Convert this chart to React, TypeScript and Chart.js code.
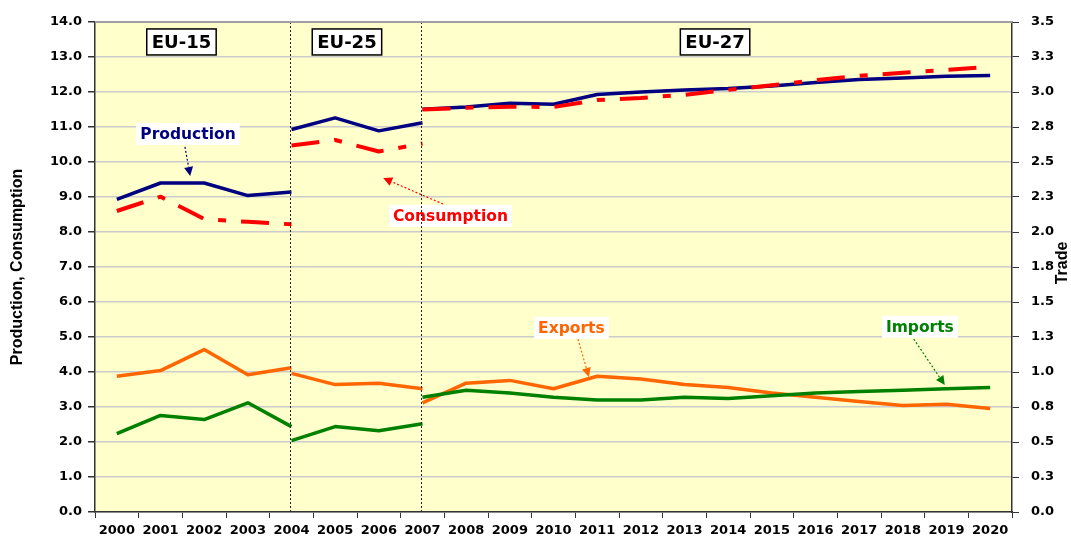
import React, { useEffect, useRef } from 'react';
import { Chart, registerables } from 'chart.js';

Chart.register(...registerables);

// ---------- data ----------
const years = ['2000','2001','2002','2003','2004','2005','2006','2007','2008','2009','2010','2011','2012','2013','2014','2015','2016','2017','2018','2019','2020'];

const leftTickLabels = ['0.0','1.0','2.0','3.0','4.0','5.0','6.0','7.0','8.0','9.0','10.0','11.0','12.0','13.0','14.0'];
const rightTickLabels = ['0.0','0.3','0.5','0.8','1.0','1.3','1.5','1.8','2.0','2.3','2.5','2.8','3.0','3.3','3.5'];

// Production (left axis)
const prodEU15 = [8.93, 9.40, 9.40, 9.04, 9.14, null, null, null, null, null, null, null, null, null, null, null, null, null, null, null, null];
const prodEU25 = [null, null, null, null, 10.93, 11.26, 10.89, 11.12, null, null, null, null, null, null, null, null, null, null, null, null, null];
const prodEU27 = [null, null, null, null, null, null, null, 11.51, 11.57, 11.68, 11.65, 11.93, 12.00, 12.06, 12.10, 12.17, 12.27, 12.36, 12.40, 12.45, 12.47];

// Consumption (left axis)
const consEU15 = [8.60, 9.01, 8.37, 8.29, 8.22, null, null, null, null, null, null, null, null, null, null, null, null, null, null, null, null];
const consEU25 = [null, null, null, null, 10.47, 10.63, 10.30, 10.53, null, null, null, null, null, null, null, null, null, null, null, null, null];
const consEU27 = [null, null, null, null, null, null, null, 11.50, 11.55, 11.58, 11.57, 11.77, 11.83, 11.92, 12.06, 12.19, 12.34, 12.46, 12.55, 12.63, 12.72];

// Exports (right axis, Trade)
const expEU15 = [0.97, 1.01, 1.16, 0.98, 1.03, null, null, null, null, null, null, null, null, null, null, null, null, null, null, null, null];
const expEU25 = [null, null, null, null, 0.99, 0.91, 0.92, 0.88, null, null, null, null, null, null, null, null, null, null, null, null, null];
const expEU27 = [null, null, null, null, null, null, null, 0.78, 0.92, 0.94, 0.88, 0.97, 0.95, 0.91, 0.89, 0.85, 0.82, 0.79, 0.76, 0.77, 0.74];

// Imports (right axis, Trade)
const impEU15 = [0.56, 0.69, 0.66, 0.78, 0.61, null, null, null, null, null, null, null, null, null, null, null, null, null, null, null, null];
const impEU25 = [null, null, null, null, 0.51, 0.61, 0.58, 0.63, null, null, null, null, null, null, null, null, null, null, null, null, null];
const impEU27 = [null, null, null, null, null, null, null, 0.82, 0.87, 0.85, 0.82, 0.80, 0.80, 0.82, 0.81, 0.83, 0.85, 0.86, 0.87, 0.88, 0.89];

// ---------- annotations (data coordinates: category index, left-axis value) ----------
const regionLabels = [
  { text: 'EU-15', x: 1.48, y: 13.43 },
  { text: 'EU-25', x: 5.27, y: 13.43 },
  { text: 'EU-27', x: 13.7, y: 13.43 },
];
const dividerIndices = [3.96, 6.97];
const seriesLabels = [
  { text: 'Production', color: '#000080', x: 1.63, y: 10.8, fx: 1.56, fy: 10.43, tx: 1.68, ty: 9.6 },
  { text: 'Consumption', color: '#FF0000', x: 7.64, y: 8.46, fx: 7.47, fy: 8.8, tx: 6.1, ty: 9.54 },
  { text: 'Exports', color: '#FF6600', x: 10.41, y: 5.26, fx: 10.56, fy: 4.94, tx: 10.81, ty: 3.86 },
  { text: 'Imports', color: '#008000', x: 18.39, y: 5.29, fx: 18.25, fy: 4.94, tx: 18.96, ty: 3.63 },
];

const NAVY = '#000080';
const RED = '#FF0000';
const ORANGE = '#FF6600';
const GREEN = '#008000';
const TICK_FONT = { family: 'DejaVu Sans', weight: 'bold' as const, size: 13 };

function drawArrow(ctx: CanvasRenderingContext2D, x1: number, y1: number, x2: number, y2: number, color: string) {
  ctx.save();
  const ang = Math.atan2(y2 - y1, x2 - x1);
  const hl = 9;
  const hw = 4.5;
  const ex = x2 - hl * Math.cos(ang);
  const ey = y2 - hl * Math.sin(ang);
  ctx.strokeStyle = color;
  ctx.lineWidth = 1.2;
  ctx.setLineDash([2, 2]);
  ctx.beginPath();
  ctx.moveTo(x1, y1);
  ctx.lineTo(ex, ey);
  ctx.stroke();
  ctx.setLineDash([]);
  ctx.fillStyle = color;
  ctx.beginPath();
  ctx.moveTo(x2, y2);
  ctx.lineTo(ex + hw * Math.sin(ang), ey - hw * Math.cos(ang));
  ctx.lineTo(ex - hw * Math.sin(ang), ey + hw * Math.cos(ang));
  ctx.closePath();
  ctx.fill();
  ctx.restore();
}

const decorPlugin = {
  id: 'decor',
  beforeDraw(chart: any) {
    const { ctx, chartArea } = chart;
    const { left, top, right, bottom } = chartArea;
    ctx.save();
    ctx.fillStyle = '#FFFFCC';
    ctx.fillRect(left, top, right - left, bottom - top);
    ctx.restore();
  },
  afterDatasetsDraw(chart: any) {
    const { ctx, chartArea, scales } = chart;
    const { left, top, right, bottom } = chartArea;
    const xs = scales.x;
    const ys = scales.y;

    // series labels with arrows
    ctx.save();
    ctx.font = 'bold 15.5px "DejaVu Sans"';
    ctx.textAlign = 'center';
    ctx.textBaseline = 'middle';
    for (const s of seriesLabels) {
      const cx = xs.getPixelForValue(s.x);
      const cy = ys.getPixelForValue(s.y);
      const w = ctx.measureText(s.text).width + 8;
      const h = 22;
      ctx.fillStyle = '#FFFFFF';
      ctx.fillRect(cx - w / 2, cy - h / 2, w, h);
      ctx.fillStyle = s.color;
      ctx.fillText(s.text, cx, cy + 1);
      drawArrow(ctx, xs.getPixelForValue(s.fx), ys.getPixelForValue(s.fy), xs.getPixelForValue(s.tx), ys.getPixelForValue(s.ty), s.color);
    }
    ctx.restore();

    // region boxes
    ctx.save();
    ctx.font = 'bold 18px "DejaVu Sans"';
    ctx.textAlign = 'center';
    ctx.textBaseline = 'middle';
    for (const r of regionLabels) {
      const cx = xs.getPixelForValue(r.x);
      const cy = ys.getPixelForValue(r.y);
      const w = ctx.measureText(r.text).width + 10;
      const h = 26;
      ctx.fillStyle = '#FFFFFF';
      ctx.fillRect(cx - w / 2, cy - h / 2, w, h);
      ctx.strokeStyle = '#000000';
      ctx.lineWidth = 1.5;
      ctx.strokeRect(cx - w / 2, cy - h / 2, w, h);
      ctx.fillStyle = '#000000';
      ctx.fillText(r.text, cx, cy + 1);
    }
    ctx.restore();

    // dotted dividers
    ctx.save();
    ctx.strokeStyle = '#222222';
    ctx.lineWidth = 1;
    ctx.setLineDash([2, 2]);
    for (const d of dividerIndices) {
      const x = Math.round(xs.getPixelForValue(d)) + 0.5;
      ctx.beginPath();
      ctx.moveTo(x, top);
      ctx.lineTo(x, bottom);
      ctx.stroke();
    }
    ctx.restore();

    // top border
    ctx.save();
    ctx.strokeStyle = '#A0A0A0';
    ctx.lineWidth = 2;
    ctx.beginPath();
    ctx.moveTo(left, top);
    ctx.lineTo(right, top);
    ctx.stroke();
    ctx.restore();
  },
  afterDraw(chart: any) {
    const { ctx, chartArea } = chart;
    ctx.save();
    ctx.translate(1063, (chartArea.top + chartArea.bottom) / 2 - 4);
    ctx.rotate(-Math.PI / 2);
    ctx.font = 'bold 16px "Liberation Sans"';
    ctx.fillStyle = '#000000';
    ctx.textAlign = 'center';
    ctx.textBaseline = 'middle';
    ctx.fillText('Trade', 0, 0);
    ctx.restore();
  },
};

function line(data: (number | null)[], color: string, axis: string, dashed = false) {
  return {
    data,
    borderColor: color,
    backgroundColor: color,
    borderWidth: dashed ? 4 : 3.5,
    borderDash: dashed ? [28, 15, 8, 15] : [],
    pointRadius: 0,
    pointHoverRadius: 0,
    tension: 0,
    fill: false,
    spanGaps: false,
    yAxisID: axis,
    borderJoinStyle: 'round' as const,
  };
}

export default function App() {
  const canvasRef = useRef<HTMLCanvasElement | null>(null);

  useEffect(() => {
    if (!canvasRef.current) return;
    const chart = new Chart(canvasRef.current, {
      type: 'line',
      data: {
        labels: years,
        datasets: [
          line(consEU15, RED, 'y', true),
          line(consEU25, RED, 'y', true),
          line(consEU27, RED, 'y', true),
          line(prodEU15, NAVY, 'y'),
          line(prodEU25, NAVY, 'y'),
          line(prodEU27, NAVY, 'y'),
          line(impEU15, GREEN, 'y2'),
          line(impEU25, GREEN, 'y2'),
          line(impEU27, GREEN, 'y2'),
          line(expEU15, ORANGE, 'y2'),
          line(expEU25, ORANGE, 'y2'),
          line(expEU27, ORANGE, 'y2'),
        ],
      },
      options: {
        animation: false,
        responsive: false,
        layout: { padding: { top: 22, left: 0, right: 0, bottom: 0 } },
        plugins: {
          legend: { display: false },
          tooltip: { enabled: false },
        },
        scales: {
          x: {
            type: 'category',
            offset: true,
            grid: {
              offset: true,
              drawOnChartArea: false,
              drawTicks: true,
              tickLength: 6,
              tickColor: '#333333',
              lineWidth: 1,
            },
            border: { display: true, color: '#333333', width: 1.5 },
            ticks: { color: '#000000', font: TICK_FONT, padding: 5, maxRotation: 0, autoSkip: false },
            afterFit: (s: any) => { s.height = 26; },
          },
          y: {
            position: 'left',
            min: 0,
            max: 14,
            ticks: {
              stepSize: 1,
              color: '#000000',
              font: TICK_FONT,
              padding: 6,
              callback: (_v: any, i: number) => leftTickLabels[i],
            },
            grid: { color: '#CCCCCC', lineWidth: 1.5, tickColor: '#333333', tickLength: 7 },
            border: { display: true, color: '#333333', width: 1.5 },
            title: {
              display: true,
              text: 'Production, Consumption',
              color: '#000000',
              font: { family: 'Liberation Sans', weight: 'bold', size: 16 },
              padding: { top: 8, bottom: 0 },
            },
            afterFit: (s: any) => { s.width = 95; },
          },
          y2: {
            position: 'right',
            min: 0,
            max: 3.5,
            ticks: {
              stepSize: 0.25,
              color: '#000000',
              font: TICK_FONT,
              padding: 12,
              callback: (_v: any, i: number) => rightTickLabels[i],
            },
            grid: { drawOnChartArea: false, tickColor: '#333333', tickLength: 7 },
            border: { display: true, color: '#333333', width: 1.5 },
            afterFit: (s: any) => { s.width = 59; },
          },
        },
      },
      plugins: [decorPlugin],
    } as any);
    return () => chart.destroy();
  }, []);

  return (
    <div style={{ position: 'absolute', left: 0, top: 0, width: 1071, height: 538, background: '#FFFFFF' }}>
      <canvas ref={canvasRef} width={1071} height={538} style={{ display: 'block' }} />
    </div>
  );
}
